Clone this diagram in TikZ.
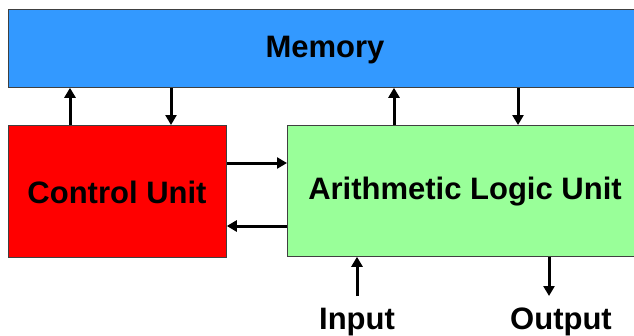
\documentclass[tikz,border=0pt]{standalone}
\usepackage{fontspec}
\setmainfont{Liberation Sans}
\usetikzlibrary{arrows.meta,calc}
\begin{document}
\begin{tikzpicture}[x=1pt,y=-1pt,
  box/.style={draw=black!75,line width=0.8pt,inner sep=0pt,anchor=north west},
  lbl/.style={font=\fontsize{31}{36}\selectfont\bfseries},
  arr/.style={line width=3pt,-{Triangle[length=10pt,width=11pt]}}]
\useasboundingbox (0,0) rectangle (634,335);
\clip (0,0) rectangle (634,335);
% boxes
\node[box,fill={rgb,255:red,51;green,153;blue,255},minimum width=630pt,minimum height=78pt] (mem) at (8,9) {};
\node[box,fill={rgb,255:red,255;green,0;blue,0},minimum width=218pt,minimum height=132pt] (cu) at (8,125) {};
\node[box,fill={rgb,255:red,153;green,255;blue,153},minimum width=351pt,minimum height=131pt] (alu) at (287,125) {};
% labels
\node[lbl] (memt) at (325,50) {Memory};
\node[lbl] (cut) at (117,192) {Control Unit};
\node[lbl] (alut) at (465,192) {Arithmetic Logic Unit};
\node[lbl] (in) at (357,322) {Input};
\node[lbl] (out) at (561,322) {Output};
% memory <-> control unit
\draw[arr] ([xshift=62pt]cu.north west) -- ([xshift=62pt]cu.north west |- mem.south);
\draw[arr] ([xshift=163pt]mem.south west) -- ([xshift=163pt]mem.south west |- cu.north);
% memory <-> ALU
\draw[arr] ([xshift=107pt]alu.north west) -- ([xshift=107pt]alu.north west |- mem.south);
\draw[arr] ([xshift=510pt]mem.south west) -- ([xshift=510pt]mem.south west |- alu.north);
% control unit <-> ALU
\draw[arr] ([yshift=-38pt]cu.north east) -- ([yshift=-38pt]cu.north east -| alu.west);
\draw[arr] ([yshift=-101pt]alu.north west) -- ([yshift=-101pt]alu.north west -| cu.east);
% input / output
\coordinate (inend) at (357,296);
\coordinate (outend) at (549,296);
\draw[arr] (inend) -- (inend |- alu.south);
\draw[arr] (outend |- alu.south) -- (outend);
\end{tikzpicture}
\end{document}
